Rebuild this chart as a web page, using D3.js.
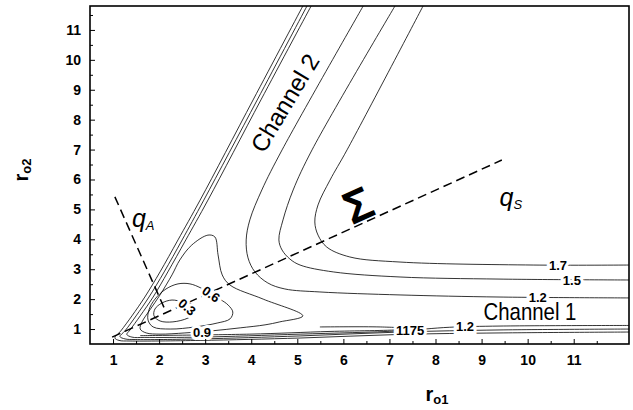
<!DOCTYPE html>
<html>
<head>
<meta charset="utf-8">
<script src="https://cdn.jsdelivr.net/npm/d3@7"></script>
<style>
  body { margin: 0; background: #fff; }
  svg { display: block; font-family: "Liberation Sans", Arial, sans-serif; }
</style>
</head>
<body>
<div id="chart"></div>
<script>
// axis ticks
const xTicks = [1, 2, 3, 4, 5, 6, 7, 8, 9, 10, 11];
const yTicks = [1, 2, 3, 4, 5, 6, 7, 8, 9, 10, 11];
const xMinor = [1.5, 2.5, 3.5, 4.5, 5.5, 6.5, 7.5, 8.5, 9.5, 10.5, 11.5];
const yMinor = [1.5, 2.5, 3.5, 4.5, 5.5, 6.5, 7.5, 8.5, 9.5, 10.5, 11.5];

// repulsive wall contours (channel 2 side, turning into channel 1 floor)
const wall17 = [[5.12, 11.8], [4.04, 8.66], [2.89, 5.31], [2.41, 3.98], [2.02, 2.91], [1.69, 2.07], [1.41, 1.44], [1.17, 0.94], [1.04, 0.70], [1.13, 0.62], [1.37, 0.60], [2.89, 0.62], [5.06, 0.70], [7.23, 0.82], [9.4, 0.87], [12.2, 0.90]];
const wall15 = [[5.21, 11.8], [4.13, 8.66], [2.97, 5.31], [2.50, 3.98], [2.11, 2.91], [1.78, 2.07], [1.50, 1.44], [1.26, 0.94], [1.15, 0.75], [1.26, 0.67], [1.48, 0.65], [2.89, 0.67], [5.06, 0.77], [7.23, 0.90], [9.4, 0.97], [12.2, 1.0]];
const wall12 = [[5.30, 11.8], [4.21, 8.66], [3.06, 5.31], [2.58, 3.98], [2.19, 2.91], [1.87, 2.07], [1.59, 1.44], [1.37, 0.97], [1.30, 0.82], [1.41, 0.73], [1.69, 0.72], [2.89, 0.73], [5.06, 0.83], [7.23, 0.94], [8.31, 1.06], [9.4, 1.10], [12.2, 1.12]];

// outer hyperbola-like contours
const hyp12 = [[6.43, 11.8], [4.67, 6.99], [4.23, 5.65], [3.97, 4.65], [3.89, 3.98], [3.93, 3.38], [4.08, 2.91], [4.36, 2.54], [4.73, 2.34], [5.49, 2.24], [7.23, 2.14], [9.4, 2.07], [12.2, 2.04]];
const hyp15 = [[7.12, 11.8], [5.32, 6.99], [4.91, 5.65], [4.69, 4.65], [4.60, 3.98], [4.67, 3.64], [4.84, 3.34], [5.06, 3.14], [5.78, 2.91], [7.23, 2.74], [9.4, 2.67], [12.2, 2.64]];
const hyp17 = [[7.73, 11.8], [6.08, 6.99], [5.71, 5.98], [5.45, 5.15], [5.38, 4.58], [5.45, 4.14], [5.64, 3.74], [6.14, 3.41], [7.23, 3.24], [10.12, 3.14], [12.2, 3.14]];

// well contours (closed)
const loop09 = [[3.06, 4.14], [3.21, 4.08], [3.28, 3.48], [3.37, 2.81], [3.54, 2.47], [4.26, 2.0], [5.12, 1.44], [4.62, 1.24], [4.30, 1.14], [3.76, 1.04], [3.15, 0.94], [2.56, 0.87], [2.02, 0.83], [1.72, 0.87], [1.59, 1.0], [1.63, 1.24], [1.80, 1.64], [2.02, 2.14], [2.28, 2.81], [2.45, 3.31], [2.71, 3.81]];
const loop06 = [[2.91, 2.37], [2.67, 2.51], [2.41, 2.51], [2.15, 2.34], [1.91, 2.0], [1.78, 1.64], [1.76, 1.30], [1.87, 1.07], [2.24, 1.0], [2.78, 1.07], [3.26, 1.2], [3.54, 1.34], [3.60, 1.57], [3.50, 1.80], [3.32, 2.0]];
const loop03 = [[2.52, 1.90], [2.28, 1.97], [2.06, 1.87], [1.91, 1.67], [1.89, 1.44], [2.02, 1.27], [2.30, 1.24], [2.63, 1.37], [2.80, 1.57], [2.74, 1.80]];
const tongue1175 = [[1.59, 0.78], [3.97, 0.83], [5.71, 0.92], [7.23, 0.98], [7.40, 1.02], [6.80, 1.07], [5.49, 1.07]];

// normal coordinate axes
const qsAxis = [[0.98, 0.73], [9.44, 6.65]];
const qaAxis = [[1.04, 5.42], [2.15, 1.57]];

// contour labels: text, r_o1, r_o2, angle
const contourLabels = [
  ["1.7", 10.66, 3.14, 0],
  ["1.5", 10.96, 2.64, 0],
  ["1.2", 10.22, 2.07, 0],
  ["1.2", 8.64, 1.10, 0],
  ["1175", 7.45, 0.97, 0],
  ["0.9", 2.93, 0.90, 0],
  ["0.3", 2.61, 1.74, 40],
  ["0.6", 3.13, 2.17, 35]
];

const width = 633;
const height = 410;
const margin = { top: 6, left: 90, bottom: 66, right: 4 };
const iwidth = width - margin.left - margin.right;
const iheight = height - margin.top - margin.bottom;

const svg = d3.select("#chart").append("svg")
  .attr("width", width)
  .attr("height", height);

const x = d3.scaleLinear().domain([0.5, 12.2]).range([0, iwidth]);
const y = d3.scaleLinear().domain([0.5, 11.8]).range([iheight, 0]);

const g = svg.append("g").attr("transform", `translate(${margin.left},${margin.top})`);

g.append("clipPath").attr("id", "clip")
  .append("rect").attr("width", iwidth).attr("height", iheight);

const plot = g.append("g").attr("clip-path", "url(#clip)");

const line = d3.line().x(d => x(d[0])).y(d => y(d[1])).curve(d3.curveCatmullRom);
const loop = d3.line().x(d => x(d[0])).y(d => y(d[1])).curve(d3.curveCatmullRomClosed);

[wall17, wall15, wall12, hyp12, hyp15, hyp17, tongue1175].forEach(d => {
  plot.append("path").datum(d).attr("d", line)
    .attr("fill", "none").attr("stroke", "#000").attr("stroke-width", 0.8);
});
[loop09, loop06, loop03].forEach(d => {
  plot.append("path").datum(d).attr("d", loop)
    .attr("fill", "none").attr("stroke", "#000").attr("stroke-width", 0.8);
});

// dashed q axes
[qsAxis, qaAxis].forEach(d => {
  plot.append("path").datum(d).attr("d", d3.line().x(p => x(p[0])).y(p => y(p[1])))
    .attr("fill", "none").attr("stroke", "#000").attr("stroke-width", 1.5)
    .attr("stroke-dasharray", "9,5");
});

// contour labels with white halo to break lines
plot.selectAll(".clabel").data(contourLabels).enter().append("text")
  .attr("class", "clabel")
  .attr("transform", d => `translate(${x(d[1])},${y(d[2])}) rotate(${d[3]})`)
  .attr("text-anchor", "middle")
  .attr("dy", "0.36em")
  .attr("font-size", 13)
  .attr("font-weight", "bold")
  .attr("stroke", "#fff").attr("stroke-width", 6).attr("paint-order", "stroke")
  .text(d => d[0]);

// annotations
plot.append("text")
  .attr("transform", `translate(${x(4.73)},${y(8.56)}) rotate(-59)`)
  .attr("text-anchor", "middle").attr("dy", "0.35em")
  .attr("font-size", 24)
  .text("Channel 2");

plot.append("text")
  .attr("transform", `translate(${x(10.05)},${y(1.57)}) scale(0.85,1)`)
  .attr("text-anchor", "middle").attr("dy", "0.35em")
  .attr("font-size", 24)
  .text("Channel 1");

plot.append("text")
  .attr("transform", `translate(${x(6.32)},${y(5.15)}) rotate(-24)`)
  .attr("text-anchor", "middle").attr("dy", "0.35em")
  .attr("font-size", 46).attr("font-weight", "bold")
  .text("Σ");

const qa = plot.append("text")
  .attr("x", x(1.41)).attr("y", y(4.4))
  .attr("font-size", 25).attr("font-style", "italic");
qa.append("tspan").text("q");
qa.append("tspan").attr("font-size", 13).attr("dy", 3).text("A");

const qs = plot.append("text")
  .attr("x", x(9.39)).attr("y", y(5.1))
  .attr("font-size", 25).attr("font-style", "italic");
qs.append("tspan").text("q");
qs.append("tspan").attr("font-size", 13).attr("dy", 3).text("S");

// axes with inward ticks
g.append("g").attr("transform", `translate(0,${iheight})`)
  .call(d3.axisBottom(x).tickValues(xTicks).tickSize(-5).tickPadding(11).tickFormat(d3.format("d")));
g.append("g").attr("transform", `translate(0,${iheight})`)
  .call(d3.axisBottom(x).tickValues(xMinor).tickSize(-3).tickFormat(""));
g.append("g")
  .call(d3.axisLeft(y).tickValues(yTicks).tickSize(-5).tickPadding(9).tickFormat(d3.format("d")));
g.append("g")
  .call(d3.axisLeft(y).tickValues(yMinor).tickSize(-3).tickFormat(""));

g.selectAll(".domain").remove();
g.selectAll(".tick line").attr("stroke", "#000").attr("stroke-width", 1);
g.selectAll(".tick text")
  .attr("font-family", "Liberation Sans, Arial, sans-serif")
  .attr("font-size", 14).attr("font-weight", "bold").attr("fill", "#000");

g.append("rect")
  .attr("width", iwidth).attr("height", iheight)
  .attr("fill", "none").attr("stroke", "#000").attr("stroke-width", 1.6);

// axis titles
const xt = svg.append("text")
  .attr("x", 437).attr("y", 401)
  .attr("text-anchor", "middle")
  .attr("font-size", 20).attr("font-weight", "bold");
xt.append("tspan").text("r");
xt.append("tspan").attr("font-size", 13).attr("dy", 3).text("o1");

const yt = svg.append("text")
  .attr("transform", "translate(28,170) rotate(-90)")
  .attr("text-anchor", "middle")
  .attr("font-size", 20).attr("font-weight", "bold");
yt.append("tspan").text("r");
yt.append("tspan").attr("font-size", 13).attr("dy", 3).text("o2");
</script>
</body>
</html>
